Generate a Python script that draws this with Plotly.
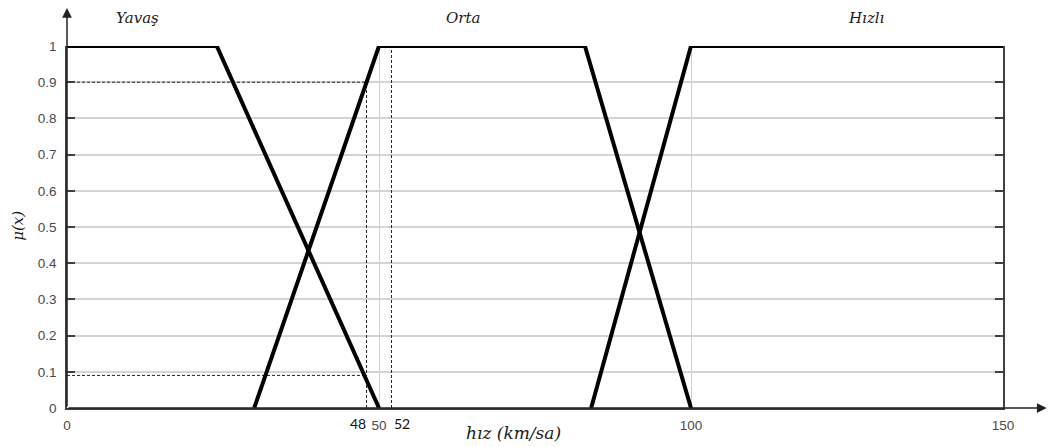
import plotly.graph_objects as go

# Membership functions for speed (km/sa)
yavas_x = [0, 24, 50]
yavas_y = [1, 1, 0]
orta_x = [30, 50, 83, 100]
orta_y = [0, 1, 1, 0]
hizli_x = [84, 100, 150]
hizli_y = [0, 1, 1]

# Example input speeds and the membership levels read at 48
marker_speeds = [48, 52]
marker_levels = [0.9, 0.09]

x_ticks = [0, 50, 100, 150]
y_ticks = [0, 0.1, 0.2, 0.3, 0.4, 0.5, 0.6, 0.7, 0.8, 0.9, 1]
set_names = ["Yavaş", "Orta", "Hızlı"]

fig = go.Figure()

dash_style = dict(color="#222222", width=1, dash="3px,2px")

# dashed guide lines
fig.add_trace(go.Scatter(x=[marker_speeds[0], marker_speeds[0]], y=[0, marker_levels[0]],
                         mode="lines", line=dash_style, hoverinfo="skip"))
for lvl in marker_levels:
    fig.add_trace(go.Scatter(x=[0, marker_speeds[0]], y=[lvl, lvl],
                             mode="lines", line=dash_style, hoverinfo="skip"))
fig.add_trace(go.Scatter(x=[marker_speeds[1], marker_speeds[1]], y=[0, 1],
                         mode="lines", line=dash_style, hoverinfo="skip"))

thick = dict(color="black", width=4)
for xs, ys, name in [(yavas_x, yavas_y, set_names[0]),
                     (orta_x, orta_y, set_names[1]),
                     (hizli_x, hizli_y, set_names[2])]:
    fig.add_trace(go.Scatter(x=xs, y=ys, mode="lines", line=thick, name=name,
                             cliponaxis=False))

tick_font = dict(family="Liberation Sans, Arial", size=13.5, color="#4a4a4a")
math_font = "DejaVu Serif, Liberation Serif"
serif_it = dict(family=math_font, size=15, color="#1a1a1a")

annotations = []
# series labels above the plot (paper coordinates)
for name, xpap in zip(set_names, [0.075, 0.4233, 0.8536]):
    annotations.append(dict(x=xpap, y=1.077, xref="paper", yref="paper", text=f"<i>{name}</i>",
                            showarrow=False, xanchor="center", yanchor="middle", font=serif_it))
# labels for the marked speeds
annotations.append(dict(x=marker_speeds[0], y=0, xref="x", yref="y", text=str(marker_speeds[0]),
                        showarrow=False, xanchor="right", xshift=1, yshift=-15,
                        font=dict(family="Lato, Liberation Sans", size=14, color="#111111")))
annotations.append(dict(x=marker_speeds[1], y=0, xref="x", yref="y", text=str(marker_speeds[1]),
                        showarrow=False, xanchor="left", xshift=1, yshift=-15,
                        font=dict(family="Lato, Liberation Sans", size=14, color="#111111")))
# axis titles
annotations.append(dict(x=0.4765, y=-0.069, xref="paper", yref="paper",
                        text="<i>hız (km/sa)</i>", showarrow=False,
                        xanchor="center", yanchor="middle",
                        font=dict(family=math_font, size=17, color="#1a1a1a")))
annotations.append(dict(x=-0.0524, y=0.503, xref="paper", yref="paper",
                        text="<i>μ(x)</i>", showarrow=False, textangle=-90,
                        xanchor="center", yanchor="middle",
                        font=dict(family=math_font, size=15, color="#1a1a1a")))
# axis arrows
annotations.append(dict(x=0, y=1.105, ax=0, ay=0, xref="x", yref="y", axref="x", ayref="y",
                        text="", showarrow=True, arrowhead=2, arrowsize=1.3, arrowwidth=1.5,
                        arrowcolor="#222222"))
annotations.append(dict(x=157, y=0, ax=0, ay=0, xref="x", yref="y", axref="x", ayref="y",
                        text="", showarrow=True, arrowhead=2, arrowsize=1.3, arrowwidth=1.5,
                        arrowcolor="#222222"))

fig.update_layout(
    width=1048, height=447,
    margin=dict(l=67, r=45, t=46, b=39),
    paper_bgcolor="white", plot_bgcolor="white",
    showlegend=False,
    annotations=annotations,
    xaxis=dict(range=[0, 150], tickvals=x_ticks, ticks="", showgrid=True,
               gridcolor="#cfcfcf", gridwidth=1, zeroline=False,
               showline=True, linecolor="#404040", linewidth=1.5,
               tickfont=tick_font, ticklabelstandoff=4),
    yaxis=dict(range=[0, 1], tickvals=y_ticks, ticks="inside", ticklen=8, tickwidth=1.5,
               tickcolor="#404040", showgrid=True, gridcolor="#d4d4d4", gridwidth=1.5,
               zeroline=False, showline=True, linecolor="#404040", linewidth=1.5,
               mirror="ticks", tickfont=tick_font, ticklabelstandoff=6),
)

fig.write_html("out.html")
